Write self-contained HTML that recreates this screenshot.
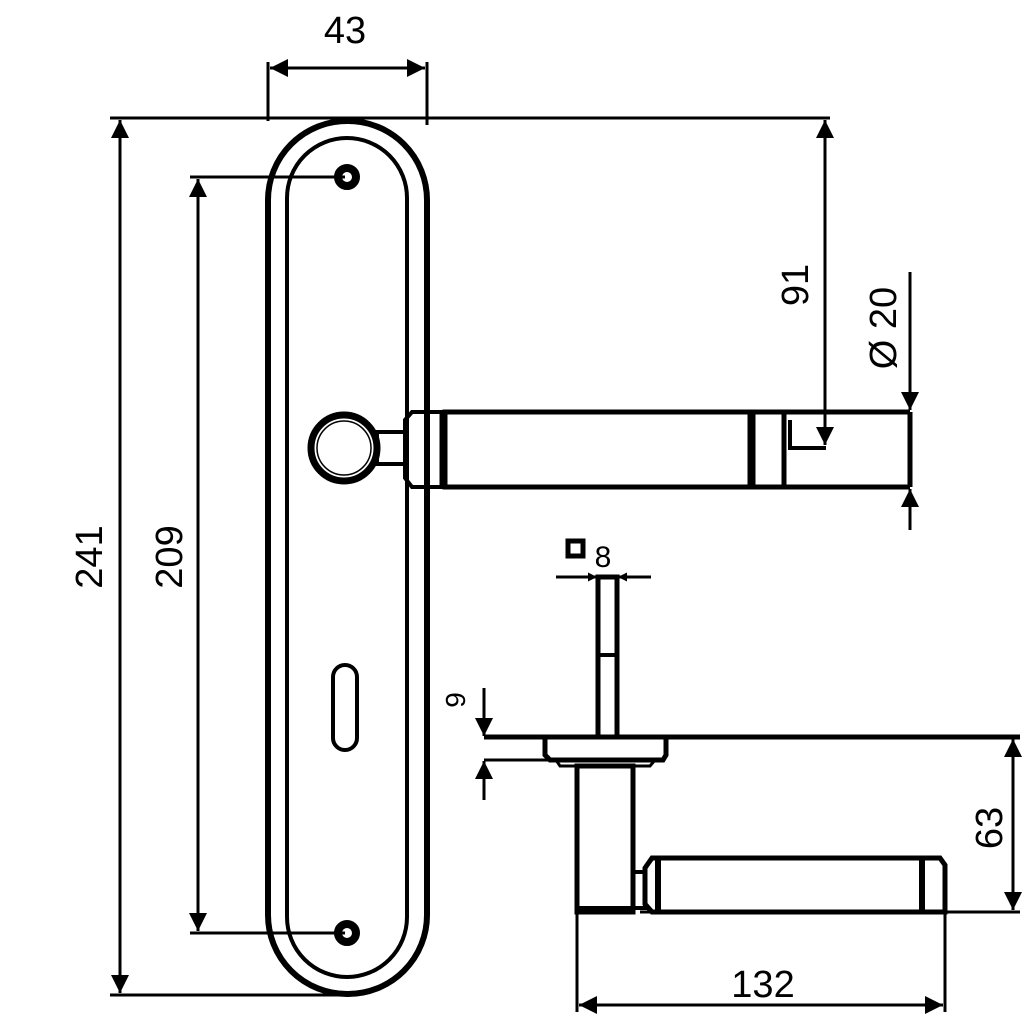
<!DOCTYPE html>
<html><head><style>html,body{margin:0;padding:0;background:#fff}</style></head><body>
<svg width="1024" height="1024" viewBox="0 0 1024 1024" xmlns="http://www.w3.org/2000/svg">
<defs>
<marker id="a" viewBox="0 0 10 10" refX="10" refY="5" markerWidth="10" markerHeight="9" markerUnits="userSpaceOnUse" orient="auto-start-reverse">
<path d="M0,0 L10,5 L0,10 z" fill="#000"/></marker>
<marker id="b" viewBox="0 0 10 10" refX="10" refY="5" markerWidth="30" markerHeight="18" markerUnits="userSpaceOnUse" orient="auto-start-reverse">
<path d="M0,0 L10,5 L0,10 z" fill="#000"/></marker>
</defs>
<g fill="none" stroke="#000" stroke-width="3">
<rect x="268" y="121" width="159" height="873" rx="79" stroke-width="6"/>
<rect x="287" y="138" width="120" height="839" rx="60" stroke-width="4"/>
<circle cx="347" cy="177" r="9" stroke-width="8"/>
<circle cx="347" cy="933" r="9" stroke-width="8"/>
<rect x="333" y="665" width="24" height="85" rx="12" stroke-width="4"/>
<circle cx="344" cy="448" r="33" stroke-width="7"/>
<circle cx="344" cy="448" r="27" stroke-width="1.5"/>
<rect x="377" y="432" width="28" height="32" stroke-width="4"/>
<path d="M405,420 L412,412 L445,412 L445,487 L412,487 L405,478 Z" stroke-width="4"/>
<line x1="443" y1="412" x2="443" y2="487" stroke-width="7"/>
<rect x="445" y="412" width="305" height="75" stroke-width="5"/>
<line x1="752" y1="412" x2="752" y2="487" stroke-width="7"/>
<rect x="752" y="412" width="32" height="75" stroke-width="5"/>
<path d="M784,412 L910,412 M784,487 L910,487 M910,412 L910,487" stroke-width="5"/>
<path d="M790,420 L790,448 L826,448" stroke-width="4"/>
<line x1="268" y1="62" x2="268" y2="121"/>
<line x1="427" y1="62" x2="427" y2="125"/>
<line x1="270" y1="68" x2="425" y2="68" marker-start="url(#b)" marker-end="url(#b)"/>
<line x1="110" y1="118" x2="830" y2="118"/>
<line x1="110" y1="995" x2="345" y2="995"/>
<line x1="120" y1="120" x2="120" y2="993" marker-start="url(#b)" marker-end="url(#b)"/>
<line x1="190" y1="177" x2="345" y2="177"/>
<line x1="190" y1="933" x2="345" y2="933"/>
<line x1="198" y1="179" x2="198" y2="931" marker-start="url(#b)" marker-end="url(#b)"/>
<line x1="825" y1="120" x2="825" y2="445" marker-start="url(#b)" marker-end="url(#b)"/>
<line x1="910" y1="272" x2="910" y2="410" marker-end="url(#b)"/>
<line x1="910" y1="530" x2="910" y2="489" marker-end="url(#b)"/>
<rect x="598" y="577" width="19" height="160" stroke-width="5"/>
<line x1="598" y1="655" x2="617" y2="655" stroke-width="4"/>
<line x1="556" y1="577" x2="597" y2="577" marker-end="url(#a)"/>
<line x1="651" y1="577" x2="618" y2="577" marker-end="url(#a)"/>
<line x1="484" y1="737" x2="1020" y2="737" stroke-width="5"/>
<path d="M545,737 L545,755 L550,760 L663,760 L666,755 L666,737" stroke-width="5"/>
<path d="M556,760 L560,766 L650,766 L655,760" stroke-width="3"/>
<line x1="484" y1="760" x2="553" y2="760" stroke-width="3"/>
<line x1="484" y1="688" x2="484" y2="736" marker-end="url(#b)"/>
<line x1="484" y1="800" x2="484" y2="761" marker-end="url(#b)"/>
<rect x="577" y="766" width="56" height="146" stroke-width="5"/>
<line x1="578" y1="909" x2="632" y2="909" stroke-width="6"/>
<rect x="633" y="872" width="12" height="36" stroke-width="4"/>
<path d="M645,868 L652,858 L940,858 L945,865 L945,912 L652,912 L645,904 Z" stroke-width="5"/>
<line x1="658" y1="858" x2="658" y2="912" stroke-width="6"/>
<line x1="922" y1="858" x2="922" y2="912" stroke-width="6"/>
<line x1="577" y1="912" x2="577" y2="1012"/>
<line x1="945" y1="912" x2="945" y2="1012"/>
<line x1="579" y1="1005" x2="943" y2="1005" marker-start="url(#b)" marker-end="url(#b)"/>
<line x1="640" y1="912" x2="1020" y2="912" stroke-width="3"/>
<line x1="1013" y1="739" x2="1013" y2="910" marker-start="url(#b)" marker-end="url(#b)"/>
<rect x="568" y="541" width="15" height="15" stroke-width="5"/>
</g>
<g font-family="Liberation Sans, sans-serif" font-size="38" fill="#000" text-anchor="middle">
<text x="345" y="43">43</text>
<text x="763" y="997">132</text>
<text x="603" y="567" font-size="30">8</text>
<text transform="translate(102,557) rotate(-90)">241</text>
<text transform="translate(182,557) rotate(-90)">209</text>
<text transform="translate(808,285) rotate(-90)">91</text>
<text transform="translate(896,328) rotate(-90)">Ø 20</text>
<text transform="translate(1002,828) rotate(-90)">63</text>
<text transform="translate(465,700) rotate(-90)" font-size="28">9</text>
</g>
</svg>
</body></html>
